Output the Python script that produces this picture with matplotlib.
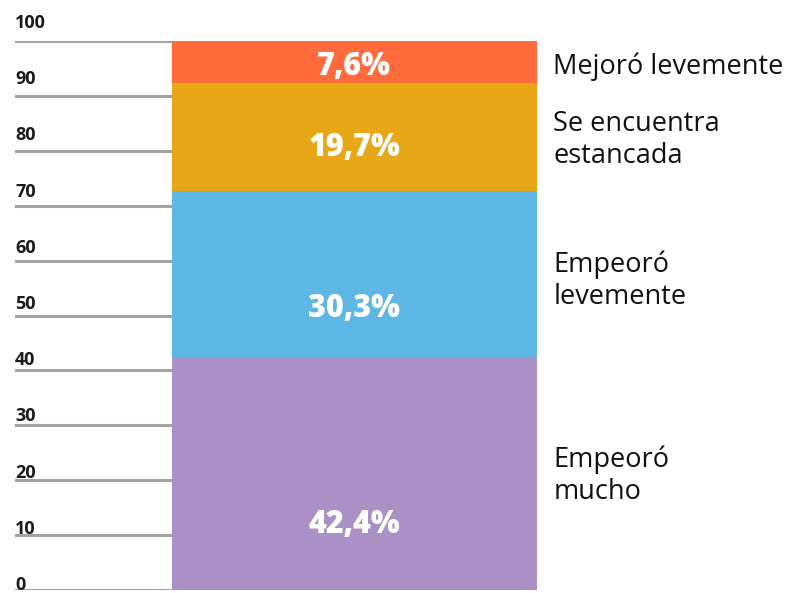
import numpy as np
import matplotlib.pyplot as plt

categorias = ["Empeoró\nmucho", "Empeoró\nlevemente", "Se encuentra\nestancada", "Mejoró levemente"]
valores = [42.4, 30.3, 19.7, 7.6]
etiquetas = ["42,4%", "30,3%", "19,7%", "7,6%"]
ticks = [0, 10, 20, 30, 40, 50, 60, 70, 80, 90, 100]

colores = ["#AB90C6", "#5DB6E4", "#E8A716", "#FF6B3A"]
frac_valor = [0.28, 0.29, 0.4, 0.38]
frac_cat = [0.49, 0.46, 0.47, 0.38]

plt.rcParams['font.family'] = ['Open Sans', 'DejaVu Sans']

W, H = 798, 593
fig = plt.figure(figsize=(W / 100, H / 100), dpi=100)
ax = fig.add_axes([15 / W, 3 / H, 522 / W, 549 / H])
ax.set_xlim(0, 1)
ax.set_ylim(0, 100)
ax.axis('off')

for t in ticks:
    ax.axhline(t, color="#A3A3A3", lw=2.2, zorder=0)
    ax.text(0, t + 0.91 + 0.0237 * t, str(t), ha='left', va='center',
            fontsize=13, fontweight='bold', color="#1a1a1a", clip_on=False)

abajo = 0
for v, c, lab, cat, fv, fc in zip(valores, colores, etiquetas, categorias, frac_valor, frac_cat):
    ax.bar(0.301, v, width=0.699, bottom=abajo, align='edge', color=c, zorder=2)
    ax.text(0.65, abajo + v * fv, lab, ha='center', va='center', color='white',
            fontsize=22, fontweight='heavy', zorder=3)
    ax.text(1.031, abajo + v * fc, cat, ha='left', va='center', color='#111111',
            fontsize=19.5, linespacing=1.2, clip_on=False)
    abajo += v

fig.savefig("out.png", dpi=100)
